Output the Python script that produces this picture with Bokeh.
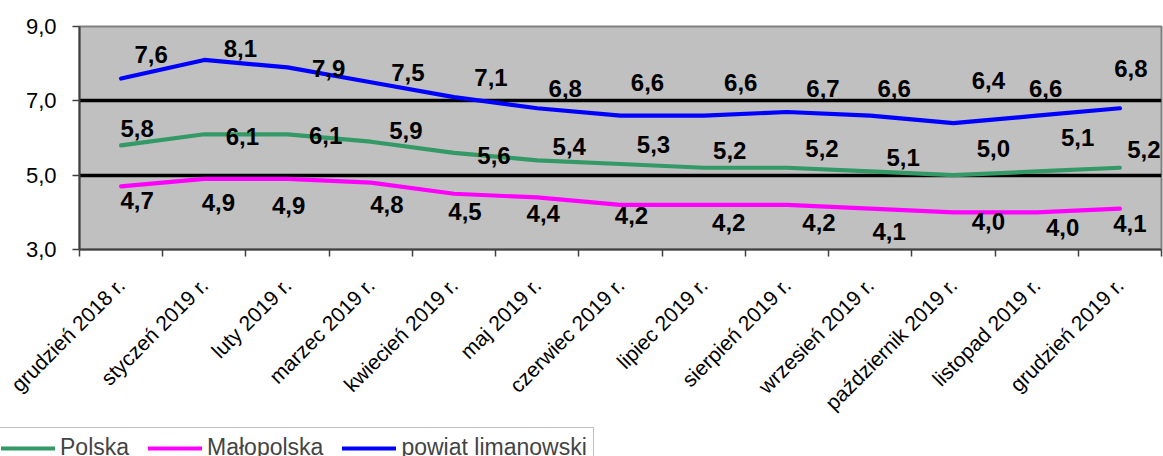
import math
from bokeh.plotting import figure
from bokeh.models import (ColumnDataSource, FixedTicker, CustomJSTickFormatter,
                          Range1d, Legend, LegendItem)
from bokeh.embed import file_html
from bokeh.resources import INLINE
from bokeh.core.properties import value

# ---------------- data ----------------
months = ["grudzień 2018 r.", "styczeń 2019 r.", "luty 2019 r.", "marzec 2019 r.",
          "kwiecień 2019 r.", "maj 2019 r.", "czerwiec 2019 r.", "lipiec 2019 r.",
          "sierpień 2019 r.", "wrzesień 2019 r.", "październik 2019 r.",
          "listopad 2019 r.", "grudzień 2019 r."]
polska = [5.8, 6.1, 6.1, 5.9, 5.6, 5.4, 5.3, 5.2, 5.2, 5.1, 5.0, 5.1, 5.2]
malopolska = [4.7, 4.9, 4.9, 4.8, 4.5, 4.4, 4.2, 4.2, 4.2, 4.1, 4.0, 4.0, 4.1]
powiat = [7.6, 8.1, 7.9, 7.5, 7.1, 6.8, 6.6, 6.6, 6.7, 6.6, 6.4, 6.6, 6.8]
series_names = ["Polska", "Małopolska", "powiat limanowski"]
y_ticks = [3, 5, 7, 9]
grid_values = [5, 7]

# ---------------- label placement (screen px) ----------------
blue_dx = [30, 36, 41, 37, 37, 28, 27, 37, 36, 24, 35, 9, 11]
blue_dy = [-24, -11, 1, -10, -20, -20, -33, -33, -23, -27, -43, -27, -40]
green_dx = [16, 38, 38, 35, 40, 32, 33, 26, 35, 33, 40, 41, 24]
green_dy = [-17, 2, 1, -11, 3, -14, -20, -17, -19, -14, -27, -34, -18]
mag_dx = [16, 14, 1, 16, 11, 6, 11, 25, 32, 19, 35, 26, 10]
mag_dy = [14, 24, 27, 22, 18, 16, 11, 18, 18, 23, 9, 15, 15]

FONT = "Liberation Sans"
COLORS = ["#339966", "#FF00FF", "#0000FF"]
xs = list(range(len(months)))

p = figure(width=1163, height=426, output_backend="svg", toolbar_location=None,
           x_range=Range1d(-0.5, len(months) - 0.5), y_range=Range1d(3, 9),
           min_border_left=79, min_border_right=2, min_border_top=26,
           min_border_bottom=177)
p.background_fill_color = "#C0C0C0"
p.border_fill_color = "white"
p.outline_line_color = "#808080"
p.outline_line_width = 2

# axes
p.xaxis.ticker = FixedTicker(ticks=xs, minor_ticks=[i - 0.5 for i in range(len(months) + 1)])
p.xaxis.formatter = CustomJSTickFormatter(
    args=dict(labels=months),
    code="const i = Math.round(tick); return (i >= 0 && i < labels.length) ? labels[i] : '';")
p.xaxis.major_label_orientation = math.pi / 4
p.xaxis.major_tick_out = 0
p.xaxis.major_tick_in = 0
p.xaxis.minor_tick_out = 7
p.xaxis.minor_tick_in = 0
p.xaxis.major_label_standoff = 25
p.xaxis.major_label_text_font = FONT
p.xaxis.major_label_text_font_size = "21px"
p.xaxis.major_label_text_color = "black"

p.yaxis.ticker = FixedTicker(ticks=y_ticks, minor_ticks=[])
p.yaxis.formatter = CustomJSTickFormatter(code="return tick.toFixed(1).replace('.', ',');")
p.yaxis.major_tick_out = 7
p.yaxis.major_tick_in = 0
p.yaxis.major_label_standoff = 16
p.yaxis.major_label_text_font = FONT
p.yaxis.major_label_text_font_size = "22px"
p.yaxis.major_label_text_color = "black"

for ax in (p.xaxis, p.yaxis):
    ax.axis_line_color = "#404040"
    ax.axis_line_width = 2
    ax.major_tick_line_color = "#404040"
    ax.minor_tick_line_color = "#404040"
    ax.major_tick_line_width = 1.5
    ax.minor_tick_line_width = 1.5

p.xgrid.visible = False
p.ygrid.ticker = FixedTicker(ticks=grid_values, minor_ticks=[])
p.ygrid.grid_line_color = "black"
p.ygrid.grid_line_width = 3.5

# series
all_vals = [polska, malopolska, powiat]
offsets = [(green_dx, green_dy), (mag_dx, mag_dy), (blue_dx, blue_dy)]
for vals, color, (dx, dy) in zip(all_vals, COLORS, offsets):
    src = ColumnDataSource(dict(x=xs, y=vals,
                                t=[f"{v:.1f}".replace(".", ",") for v in vals],
                                dx=dx, dy=dy))
    p.line("x", "y", source=src, line_color=color, line_width=4.2,
           line_join="round", line_cap="round")
    p.text("x", "y", text="t", source=src, x_offset="dx", y_offset="dy",
           text_font=value(FONT), text_font_style="bold", text_font_size="24px",
           text_color="black", text_align="center", text_baseline="middle")

# legend strip (its own small figure directly under the chart)
leg_fig = figure(width=1163, height=30, output_backend="svg", toolbar_location=None,
                 x_range=Range1d(-100, -99), y_range=Range1d(-100, -99),
                 x_axis_location=None, y_axis_location=None, min_border=0)
leg_fig.outline_line_color = None
leg_fig.background_fill_color = "white"
leg_fig.border_fill_color = "white"
leg_fig.grid.visible = False
items = []
for name, vals, color in zip(series_names, all_vals, COLORS):
    r = leg_fig.line(xs, vals, line_color=color, line_width=4.2, line_cap="round")
    items.append(LegendItem(label=name, renderers=[r]))
legend = Legend(items=items, orientation="horizontal", location=(-6, -12),
                glyph_width=54, glyph_height=26, label_standoff=5, spacing=19,
                padding=6, margin=0, border_line_color="#808080",
                border_line_width=1.5, background_fill_color="white",
                background_fill_alpha=1.0,
                label_text_font=FONT, label_text_font_size="23px",
                label_height=26)
leg_fig.add_layout(legend)

open("out.html", "w").write(file_html([p, leg_fig], INLINE))
